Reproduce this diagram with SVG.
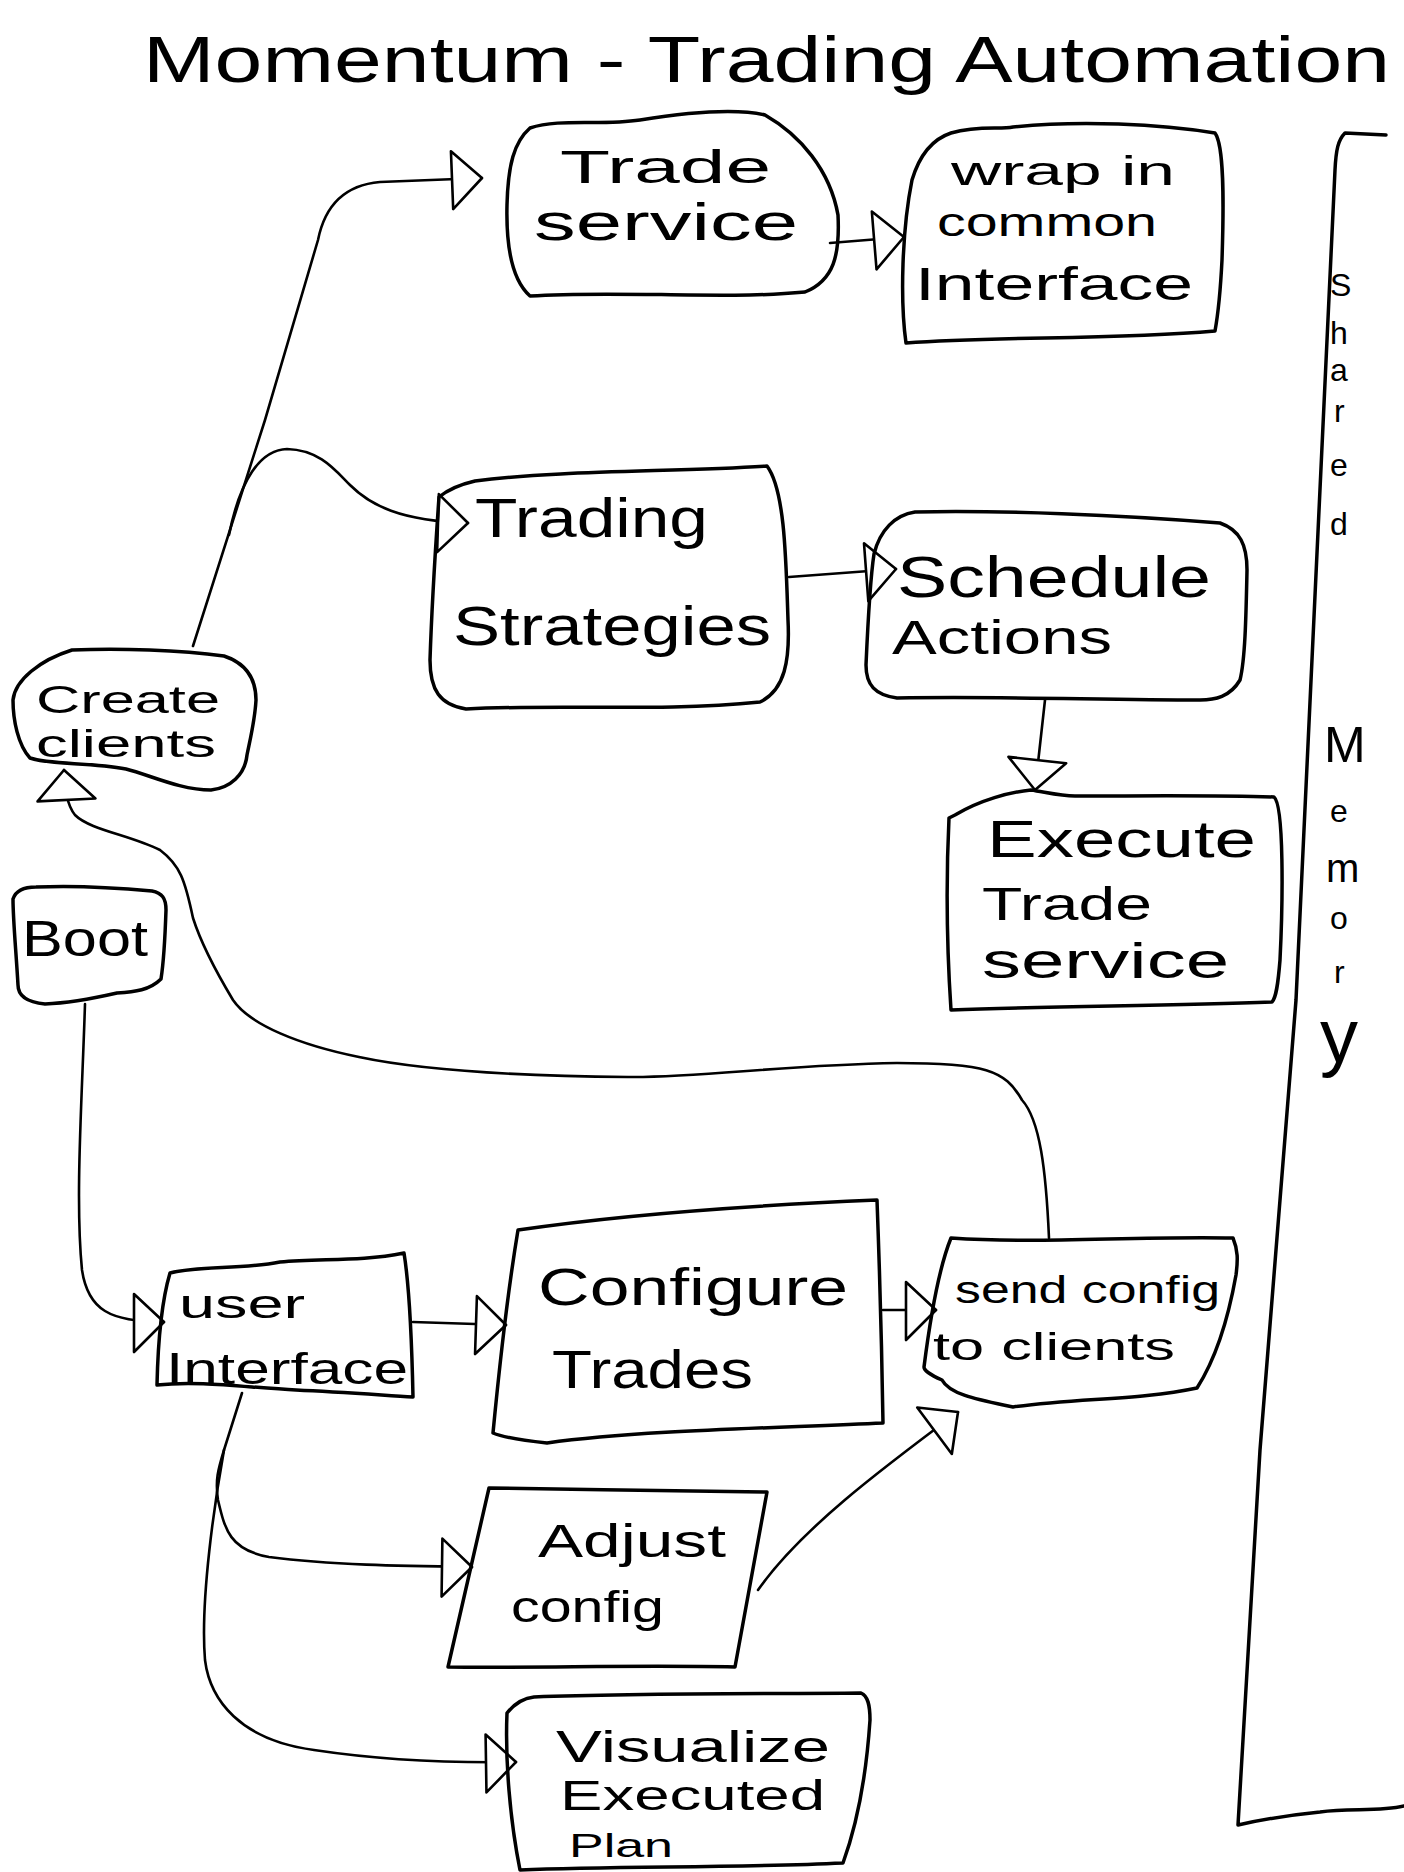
<svg xmlns="http://www.w3.org/2000/svg" width="1404" height="1872" viewBox="0 0 1404 1872">
<defs>
<style>
.bg{fill:#ffffff}
.box{fill:none;stroke:#000;stroke-width:3.5;stroke-linejoin:round;stroke-linecap:round}
.edge{fill:none;stroke:#000;stroke-width:2.6;stroke-linecap:round;stroke-linejoin:round}
.t{font-family:"Liberation Sans","DejaVu Sans",sans-serif;fill:#000}
.title{font-size:64px}
.sm{font-size:32px}
</style>
<marker id="ah" markerUnits="userSpaceOnUse" markerWidth="40" markerHeight="64" refX="32" refY="30" orient="auto">
<path d="M2,2 L32,30 L2,60 Z" fill="#fff" stroke="#000" stroke-width="2.6" stroke-linejoin="round"/>
</marker>
</defs>
<rect class="bg" x="0" y="0" width="1404" height="1872"/>

<text class="t title" x="143" y="82" textLength="1247" lengthAdjust="spacingAndGlyphs">Momentum - Trading Automation</text>

<g id="connectors">
<path class="edge" d="M193,646 L265,420 L318,240 C325,205 345,185 380,182 L482,178" marker-end="url(#ah)"/>
<path class="edge" d="M229,535 C240,480 260,450 287,449 C320,450 335,470 350,485 C370,505 400,521 468,523" marker-end="url(#ah)"/>
<path class="edge" d="M830,243 L904,237" marker-end="url(#ah)"/>
<path class="edge" d="M789,577 L896,569" marker-end="url(#ah)"/>
<path class="edge" d="M1045,700 L1035,790" marker-end="url(#ah)"/>
<path class="edge" d="M85,1004 C82,1100 75,1200 82,1270 C88,1310 110,1322 164,1322" marker-end="url(#ah)"/>
<path class="edge" d="M413,1322 L506,1325" marker-end="url(#ah)"/>
<path class="edge" d="M883,1310 L936,1310" marker-end="url(#ah)"/>
<path class="edge" d="M1049,1238 C1046,1170 1040,1120 1022,1100 C1005,1070 985,1063 897,1063 C780,1065 700,1078 628,1077 C520,1076 420,1070 359,1057 C300,1045 250,1025 233,1000 C215,970 200,940 193,918 C185,880 180,865 160,850 C130,835 90,830 75,815 C67,805 65,790 64,770" marker-end="url(#ah)"/>
<path class="edge" d="M242,1393 L224,1450 C218,1470 215,1480 218,1500 C225,1530 230,1550 269,1557 C330,1565 400,1566 472,1567" marker-end="url(#ah)"/>
<path class="edge" d="M224,1450 C215,1500 200,1600 205,1660 C210,1700 240,1740 314,1750 C380,1760 450,1763 516,1762" marker-end="url(#ah)"/>
<path class="edge" d="M758,1590 C800,1530 880,1470 958,1412" marker-end="url(#ah)"/>
</g>

<g id="trade-service">
<path class="box" d="M530,128 C560,118 600,126 640,120 C690,112 735,108 765,115 C800,135 830,170 838,215 C840,255 834,280 805,292 C720,300 620,290 530,296 C512,280 506,245 507,205 C508,165 514,142 530,128 Z"/>
<text class="t" x="560" y="183" font-size="46" textLength="211" lengthAdjust="spacingAndGlyphs">Trade</text>
<text class="t" x="534" y="240" font-size="52" textLength="264" lengthAdjust="spacingAndGlyphs">service</text>
</g>

<g id="wrap-interface">
<path class="box" d="M951,133 C980,125 1000,130 1013,127 C1080,120 1160,124 1215,133 C1224,145 1224,200 1222,260 C1220,300 1217,320 1215,331 C1110,340 1000,336 906,343 C900,300 902,230 912,180 C918,160 930,140 951,133 Z"/>
<text class="t" x="951" y="185" font-size="40" textLength="224" lengthAdjust="spacingAndGlyphs">wrap in</text>
<text class="t" x="937" y="236" font-size="40" textLength="220" lengthAdjust="spacingAndGlyphs">common</text>
<text class="t" x="915" y="300" font-size="46" textLength="278" lengthAdjust="spacingAndGlyphs">Interface</text>
</g>

<g id="trading-strategies">
<path class="box" d="M475,481 C560,470 680,472 767,466 C785,490 786,560 788,620 C790,660 785,690 760,702 C660,712 560,704 466,709 C440,705 430,690 430,660 C432,600 436,540 439,497 C450,488 462,484 475,481 Z"/>
<text class="t" x="475" y="537" font-size="56" textLength="233" lengthAdjust="spacingAndGlyphs">Trading</text>
<text class="t" x="453" y="645" font-size="56" textLength="318" lengthAdjust="spacingAndGlyphs">Strategies</text>
</g>

<g id="schedule-actions">
<path class="box" d="M915,512 C1000,510 1120,515 1220,523 C1240,530 1247,545 1247,570 C1246,620 1245,660 1240,680 C1230,697 1215,700 1200,700 C1100,700 1000,696 897,698 C875,695 866,685 866,665 C868,620 870,580 874,554 C880,530 895,515 915,512 Z"/>
<text class="t" x="897" y="597" font-size="58" textLength="314" lengthAdjust="spacingAndGlyphs">Schedule</text>
<text class="t" x="892" y="654" font-size="48" textLength="220" lengthAdjust="spacingAndGlyphs">Actions</text>
</g>

<g id="execute-trade-service">
<path class="box" d="M955,815 C980,800 1010,792 1031,790 C1045,792 1060,796 1075,796 C1140,796 1220,795 1274,797 C1284,805 1283,900 1280,960 C1278,985 1276,998 1272,1002 C1160,1006 1050,1006 951,1010 C947,950 946,880 949,818 Z"/>
<text class="t" x="987" y="857" font-size="52" textLength="269" lengthAdjust="spacingAndGlyphs">Execute</text>
<text class="t" x="982" y="920" font-size="46" textLength="170" lengthAdjust="spacingAndGlyphs">Trade</text>
<text class="t" x="982" y="978" font-size="50" textLength="247" lengthAdjust="spacingAndGlyphs">service</text>
</g>

<g id="create-clients">
<path class="box" d="M72,650 C120,648 180,650 224,656 C248,664 256,680 256,700 C255,720 250,740 247,755 C245,775 230,788 211,790 C180,790 150,775 126,769 C90,762 50,765 30,758 C18,745 13,720 13,700 C15,680 40,660 72,650 Z"/>
<text class="t" x="36" y="713" font-size="38" textLength="184" lengthAdjust="spacingAndGlyphs">Create</text>
<text class="t" x="36" y="757" font-size="38" textLength="180" lengthAdjust="spacingAndGlyphs">clients</text>
</g>

<g id="boot">
<path class="box" d="M36,887 C80,885 120,888 152,891 C162,893 166,898 166,910 C165,940 164,960 161,979 C150,990 135,992 117,993 C95,998 70,1003 45,1004 C25,1002 18,995 18,985 C16,950 13,920 13,899 C16,890 26,887 36,887 Z"/>
<text class="t" x="22" y="956" font-size="50" textLength="126" lengthAdjust="spacingAndGlyphs">Boot</text>
</g>

<g id="shared-memory">
<path class="box" d="M1386,135 L1345,133 C1338,140 1336,150 1335,170 L1296,1000 L1260,1450 L1238,1825 C1260,1820 1290,1815 1320,1812 C1350,1808 1380,1812 1404,1806"/>
<text class="t sm" x="1330" y="296">S</text>
<text class="t sm" x="1330" y="344">h</text>
<text class="t sm" x="1330" y="381">a</text>
<text class="t sm" x="1334" y="422">r</text>
<text class="t sm" x="1330" y="476">e</text>
<text class="t sm" x="1330" y="535">d</text>
<text class="t" x="1324" y="762" font-size="50">M</text>
<text class="t sm" x="1330" y="822">e</text>
<text class="t" x="1326" y="882" font-size="40">m</text>
<text class="t sm" x="1330" y="929">o</text>
<text class="t sm" x="1334" y="983">r</text>
<text class="t" x="1320" y="1062" font-size="76">y</text>
</g>

<g id="user-interface">
<path class="box" d="M170,1273 C200,1265 240,1270 280,1262 C320,1258 360,1262 404,1253 C410,1290 412,1350 413,1397 C380,1395 340,1392 296,1390 C250,1388 200,1380 157,1385 C158,1340 162,1300 170,1273 Z"/>
<text class="t" x="179" y="1318" font-size="40" textLength="126" lengthAdjust="spacingAndGlyphs">user</text>
<text class="t" x="166" y="1384" font-size="44" textLength="242" lengthAdjust="spacingAndGlyphs">Interface</text>
</g>

<g id="configure-trades">
<path class="box" d="M518,1230 C620,1215 760,1205 877,1200 C880,1280 882,1360 883,1423 C780,1428 640,1430 547,1443 C520,1440 500,1436 493,1433 C500,1360 508,1290 518,1230 Z"/>
<text class="t" x="538" y="1305" font-size="52" textLength="310" lengthAdjust="spacingAndGlyphs">Configure</text>
<text class="t" x="552" y="1388" font-size="54" textLength="201" lengthAdjust="spacingAndGlyphs">Trades</text>
</g>

<g id="send-config">
<path class="box" d="M951,1238 C1040,1244 1130,1236 1233,1238 C1238,1250 1238,1260 1236,1275 C1228,1320 1215,1360 1197,1388 C1140,1400 1080,1398 1013,1407 C980,1400 950,1395 942,1380 C930,1375 924,1370 924,1367 C930,1320 938,1270 951,1238 Z"/>
<text class="t" x="955" y="1303" font-size="38" textLength="265" lengthAdjust="spacingAndGlyphs">send config</text>
<text class="t" x="933" y="1360" font-size="38" textLength="242" lengthAdjust="spacingAndGlyphs">to clients</text>
</g>

<g id="adjust-config">
<path class="box" d="M489,1488 C580,1490 680,1490 767,1492 L735,1667 C640,1665 540,1668 448,1667 Z"/>
<text class="t" x="538" y="1557" font-size="46" textLength="188" lengthAdjust="spacingAndGlyphs">Adjust</text>
<text class="t" x="511" y="1622" font-size="44" textLength="153" lengthAdjust="spacingAndGlyphs">config</text>
</g>

<g id="visualize-plan">
<path class="box" d="M534,1697 C640,1693 760,1694 861,1693 C868,1696 870,1705 870,1720 C866,1780 855,1830 843,1863 C740,1868 620,1866 520,1870 C510,1820 505,1760 507,1713 C515,1703 525,1698 534,1697 Z"/>
<text class="t" x="556" y="1762" font-size="44" textLength="274" lengthAdjust="spacingAndGlyphs">Visualize</text>
<text class="t" x="560" y="1810" font-size="42" textLength="265" lengthAdjust="spacingAndGlyphs">Executed</text>
<text class="t" x="569" y="1857" font-size="34" textLength="104" lengthAdjust="spacingAndGlyphs">Plan</text>
</g>
</svg>
